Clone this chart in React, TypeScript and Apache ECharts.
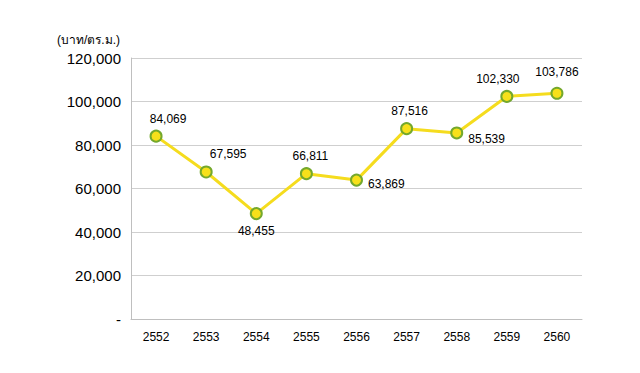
import React, { useEffect, useRef } from "react";
import * as echarts from "echarts";

const years = ["2552", "2553", "2554", "2555", "2556", "2557", "2558", "2559", "2560"];
const prices = [84069, 67595, 48455, 66811, 63869, 87516, 85539, 102330, 103786];
const labelPositions = ["top", "top", "bottom", "top", "right", "top", "right", "top", "top"];
const labelOffsets: number[][] = [[12, 0], [22, 0], [0, 0], [4, 0], [0, 4], [3, 0], [0, 6], [-9, 0], [0, -4]];
const unitLabel = "(บาท/ตร.ม.)";

const fmt = (v: number) => (v === 0 ? "-" : v.toLocaleString("en-US"));

export default function App() {
  const ref = useRef<HTMLDivElement>(null);
  useEffect(() => {
    document.body.style.margin = "0";
    const chart = echarts.init(ref.current!, null, { renderer: "svg" });
    const font = "'Liberation Sans', Arial, 'Noto Sans', 'DejaVu Sans', sans-serif";
    chart.setOption({
      animation: false,
      textStyle: { fontFamily: font },
      grid: { left: 131, right: 58, top: 58, bottom: 54 },
      graphic: [
        {
          type: "text",
          left: 57,
          top: 34,
          style: { text: unitLabel, fontSize: 12, fill: "#000", fontFamily: font },
        },
      ],
      xAxis: {
        type: "category",
        data: years,
        boundaryGap: true,
        axisLine: { lineStyle: { color: "#bfbfbf", width: 1 } },
        axisTick: { show: false },
        axisLabel: { color: "#000", fontSize: 12, margin: 12 },
      },
      yAxis: {
        type: "value",
        min: 0,
        max: 120000,
        interval: 20000,
        axisLine: { show: true, lineStyle: { color: "#bfbfbf", width: 1 } },
        axisTick: { show: false },
        splitLine: { lineStyle: { color: "#cfcfcf", width: 1 } },
        axisLabel: { color: "#000", fontSize: 15, margin: 10, formatter: fmt },
      },
      series: [
        {
          type: "line",
          data: prices.map((v, i) => ({
            value: v,
            label: { position: labelPositions[i], offset: labelOffsets[i] },
          })),
          lineStyle: { color: "#f5dc1e", width: 3 },
          symbol: "circle",
          symbolSize: 11,
          itemStyle: { color: "#f7e01a", borderColor: "#74a82c", borderWidth: 2 },
          label: {
            show: true,
            color: "#000",
            fontSize: 12,
            distance: 5,
            formatter: (p: any) => fmt(p.value),
          },
        },
      ],
    });
    return () => chart.dispose();
  }, []);
  return <div ref={ref} style={{ width: 640, height: 373 }} />;
}
